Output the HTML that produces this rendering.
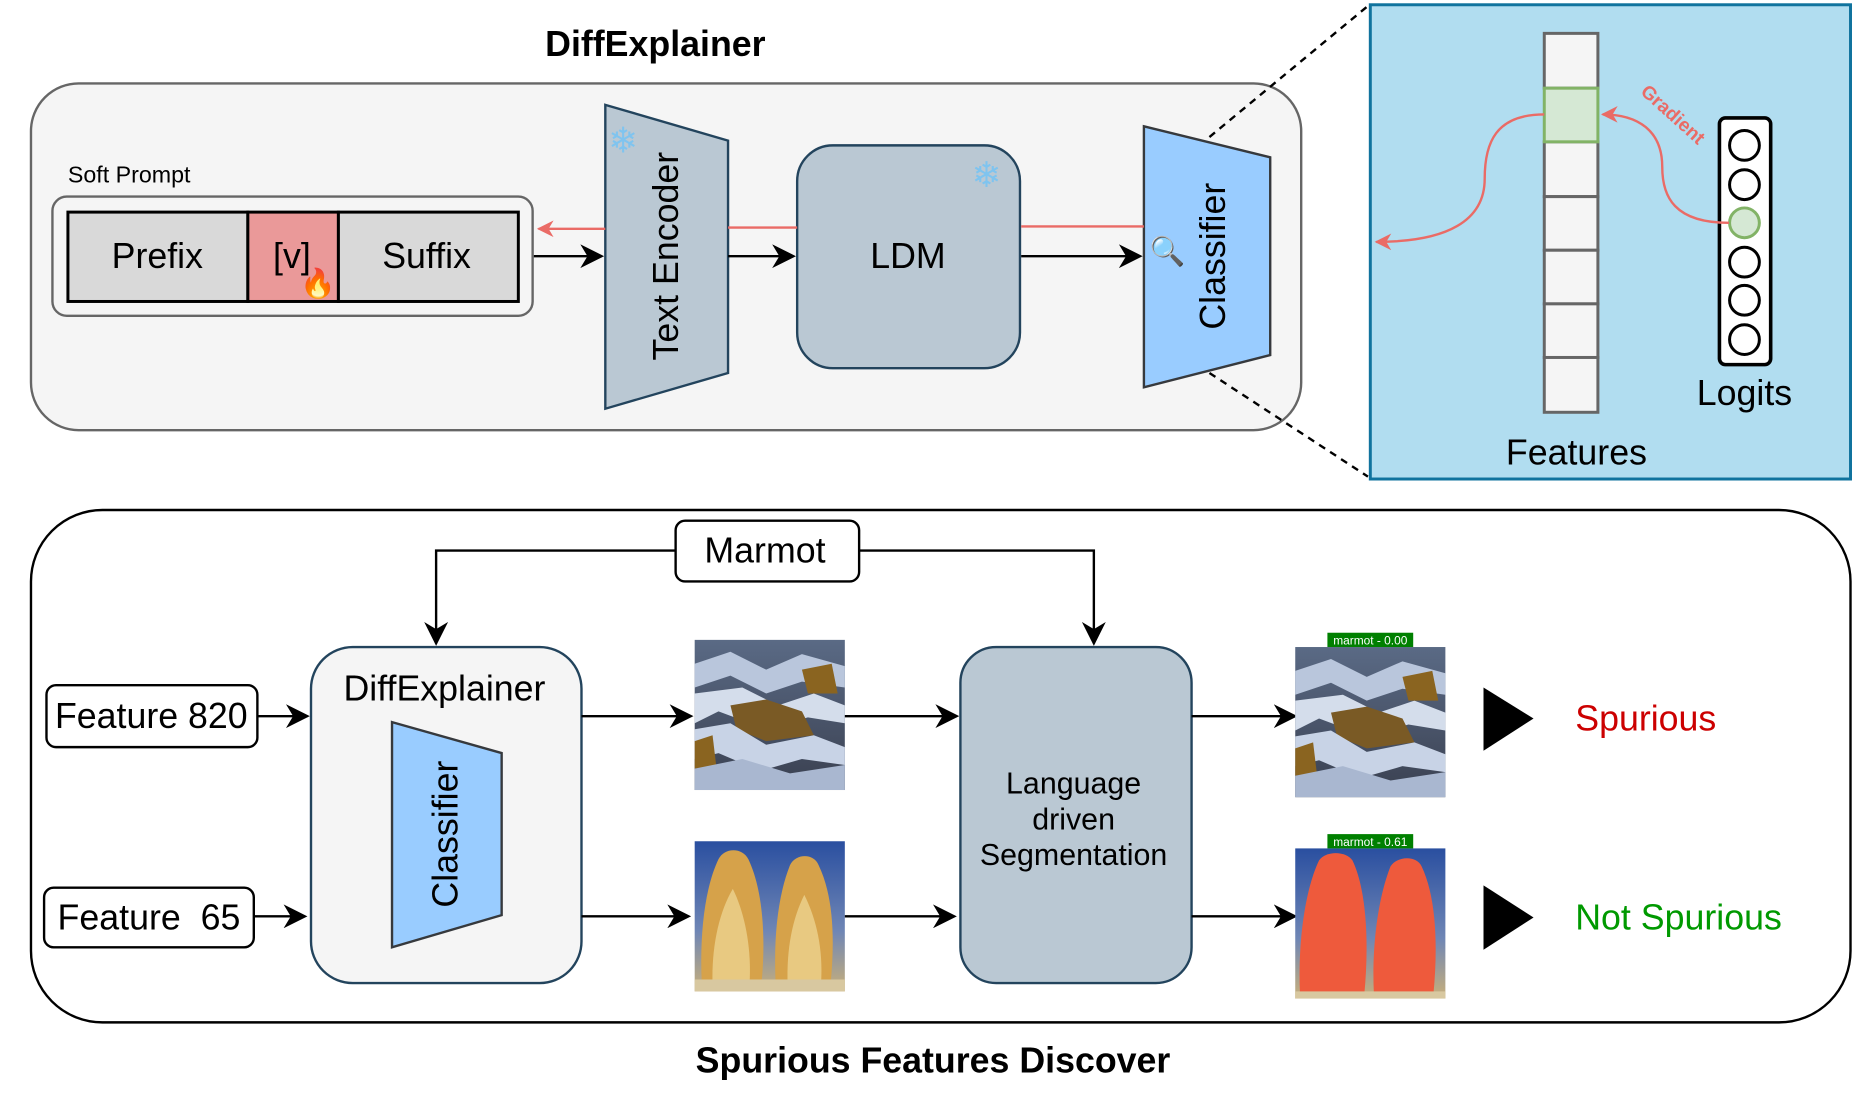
<!DOCTYPE html>
<html><head><meta charset="utf-8"><style>
html,body{margin:0;padding:0;background:#fff;}
svg{display:block;font-family:"Liberation Sans",Arial,sans-serif;}
</style></head><body>
<svg width="1866" height="1104" viewBox="0 0 1566 926.5" preserveAspectRatio="none" xmlns="http://www.w3.org/2000/svg">
<defs>
<marker id="ar" viewBox="0 0 10 10" refX="9" refY="5" markerWidth="14" markerHeight="14" orient="auto" markerUnits="userSpaceOnUse"><path d="M0,0 L10,5 L0,10 L3,5 z" fill="#ea6b66"/></marker>
<marker id="ab2" viewBox="0 0 10 10" refX="9" refY="5" markerWidth="20" markerHeight="20" orient="auto" markerUnits="userSpaceOnUse"><path d="M0,0 L10,5 L0,10 L3,5 z" fill="#000"/></marker>
<linearGradient id="rockbg" x1="0" y1="0" x2="0" y2="1"><stop offset="0" stop-color="#5a6a85"/><stop offset="1" stop-color="#3a4050"/></linearGradient>
<linearGradient id="skyb" x1="0" y1="0" x2="0" y2="1"><stop offset="0" stop-color="#2a4fa0"/><stop offset="0.6" stop-color="#6f86b5"/><stop offset="1" stop-color="#c9b07a"/></linearGradient>
<g id="rocks">
<rect width="126" height="126" fill="url(#rockbg)"/>
<polygon points="0,20 30,10 60,25 90,12 126,22 126,40 90,35 60,45 30,30 0,40" fill="#b9c6dc"/>
<polygon points="0,45 40,40 70,55 100,45 126,55 126,70 95,65 60,75 20,60 0,70" fill="#d4ddeb"/>
<polygon points="30,55 60,50 90,60 100,80 60,85 35,75" fill="#7a5a25"/>
<polygon points="0,75 30,70 60,88 100,80 126,90 126,105 90,100 55,110 20,95 0,100" fill="#c8d3e6"/>
<polygon points="90,25 115,20 120,45 95,45" fill="#8a6420"/>
<polygon points="0,85 15,80 18,105 0,108" fill="#8a6420"/>
<polygon points="0,108 40,100 80,112 126,105 126,126 0,126" fill="#a9b7d0"/>
</g>
<g id="marm">
<rect width="126" height="126" fill="url(#skyb)"/>
<path d="M6,120 C4,80 8,40 20,15 C25,5 40,5 45,15 C57,40 60,80 56,120 z" fill="#d6a24a"/>
<path d="M68,120 C66,80 70,45 80,20 C85,10 100,10 104,20 C116,45 118,80 114,120 z" fill="#d6a24a"/>
<path d="M15,120 C14,90 20,60 32,40 C42,60 48,90 46,120 z" fill="#e8c981"/>
<path d="M78,120 C77,90 82,65 92,45 C102,65 108,90 106,120 z" fill="#e8c981"/>
<rect y="116" width="126" height="10" fill="#d8c8a0"/>
</g>
<g id="marmred">
<rect width="126" height="126" fill="url(#skyb)"/>
<path d="M4,122 C2,80 8,35 20,10 C26,2 42,2 48,10 C60,35 62,80 58,122 z" fill="#ee5a3c"/>
<path d="M66,122 C64,80 70,40 80,15 C86,6 102,6 106,15 C118,40 120,80 116,122 z" fill="#ee5a3c"/>
<rect y="120" width="126" height="6" fill="#d8c8a0"/>
</g>
</defs>

<!-- TOP -->
<text x="550" y="47" text-anchor="middle" font-size="30" font-weight="bold">DiffExplainer</text>
<rect x="26" y="70" width="1066" height="291" rx="40" fill="#f5f5f5" stroke="#666" stroke-width="2"/>
<text x="57" y="153" font-size="19.5">Soft Prompt</text>
<rect x="44" y="165" width="403" height="100" rx="12" fill="#f5f5f5" stroke="#666" stroke-width="2"/>
<rect x="57" y="178" width="151" height="75" fill="#d9d9d9" stroke="#000" stroke-width="2.5"/>
<rect x="208" y="178" width="76" height="75" fill="#ea9999" stroke="#000" stroke-width="2.5"/>
<rect x="284" y="178" width="151" height="75" fill="#d9d9d9" stroke="#000" stroke-width="2.5"/>
<text x="132" y="225" text-anchor="middle" font-size="30">Prefix</text>
<text x="245" y="225" text-anchor="middle" font-size="30">[v]</text>
<text x="267" y="246" text-anchor="middle" font-size="24">🔥</text>
<text x="358" y="225" text-anchor="middle" font-size="30">Suffix</text>

<polygon points="508,88 611,118 611,313 508,343" fill="#bac8d3" stroke="#23445d" stroke-width="2"/>
<text transform="translate(569,215) rotate(-90)" text-anchor="middle" font-size="30">Text Encoder</text>
<text x="523" y="128" text-anchor="middle" font-size="30" fill="#7fc4ef">❄</text>

<rect x="669" y="122" width="187" height="187" rx="30" fill="#bac8d3" stroke="#23445d" stroke-width="2"/>
<text x="762" y="225" text-anchor="middle" font-size="30">LDM</text>
<text x="828" y="157" text-anchor="middle" font-size="30" fill="#7fc4ef">❄</text>

<polygon points="960,106 1066,132 1066,298 960,325" fill="#99ccff" stroke="#36393d" stroke-width="2"/>
<text transform="translate(1028,215) rotate(-90)" text-anchor="middle" font-size="30">Classifier</text>
<text x="980" y="219" text-anchor="middle" font-size="24">🔍</text>

<line x1="611" y1="191" x2="669" y2="191" stroke="#ea6b66" stroke-width="2"/>
<line x1="857" y1="190" x2="960" y2="190" stroke="#ea6b66" stroke-width="2"/>
<line x1="508" y1="192" x2="452" y2="192" stroke="#ea6b66" stroke-width="2" marker-end="url(#ar)"/>
<line x1="448" y1="215" x2="505" y2="215" stroke="#000" stroke-width="2" marker-end="url(#ab2)"/>
<line x1="611" y1="215" x2="666" y2="215" stroke="#000" stroke-width="2" marker-end="url(#ab2)"/>
<line x1="857" y1="215" x2="957" y2="215" stroke="#000" stroke-width="2" marker-end="url(#ab2)"/>

<line x1="1015" y1="115" x2="1148" y2="5" stroke="#000" stroke-width="2" stroke-dasharray="6,5"/>
<line x1="1015" y1="313" x2="1148" y2="400" stroke="#000" stroke-width="2" stroke-dasharray="6,5"/>

<rect x="1150" y="4" width="403" height="398" fill="#b1ddf0" stroke="#10739e" stroke-width="2.5"/>
<g fill="#f5f5f5" stroke="#666" stroke-width="2.5">
<rect x="1296" y="28" width="45" height="46"/>
<rect x="1296" y="119" width="45" height="46"/>
<rect x="1296" y="165" width="45" height="45"/>
<rect x="1296" y="210" width="45" height="45"/>
<rect x="1296" y="255" width="45" height="45"/>
<rect x="1296" y="300" width="45" height="46"/>
</g>
<rect x="1296" y="74" width="45" height="45" fill="#d5e8d4" stroke="#82b366" stroke-width="2.5"/>
<rect x="1443" y="99" width="43" height="207" rx="5" fill="#fff" stroke="#000" stroke-width="3"/>
<g fill="#fff" stroke="#000" stroke-width="2.5">
<circle cx="1464" cy="122" r="12.5"/><circle cx="1464" cy="155" r="12.5"/>
<circle cx="1464" cy="220" r="12.5"/><circle cx="1464" cy="252" r="12.5"/><circle cx="1464" cy="285" r="12.5"/>
</g>
<circle cx="1464" cy="187" r="12.5" fill="#d5e8d4" stroke="#82b366" stroke-width="2.5"/>
<path d="M1451,187 C1405,187 1395,165 1395,140 C1395,110 1375,96 1345,96" fill="none" stroke="#ea6b66" stroke-width="2" marker-end="url(#ar)"/>
<path d="M1296,96 C1255,96 1246,120 1246,150 C1246,185 1215,203 1155,203" fill="none" stroke="#ea6b66" stroke-width="2" marker-end="url(#ar)"/>
<text transform="translate(1376,78) rotate(42)" font-size="16" font-weight="bold" fill="#ea6b66">Gradient</text>
<text x="1464" y="340" text-anchor="middle" font-size="30">Logits</text>
<text x="1323" y="390" text-anchor="middle" font-size="30">Features</text>

<!-- BOTTOM -->
<rect x="26" y="428" width="1527" height="430" rx="60" fill="#fff" stroke="#000" stroke-width="2"/>
<rect x="567" y="437" width="154" height="51" rx="8" fill="#fff" stroke="#000" stroke-width="2"/>
<text x="642" y="472" text-anchor="middle" font-size="30">Marmot</text>
<path d="M567,462 L366,462 L366,540" fill="none" stroke="#000" stroke-width="2" marker-end="url(#ab2)"/>
<path d="M721,462 L918,462 L918,540" fill="none" stroke="#000" stroke-width="2" marker-end="url(#ab2)"/>

<rect x="261" y="543" width="227" height="282" rx="35" fill="#f5f5f5" stroke="#23445d" stroke-width="2"/>
<text x="373" y="588" text-anchor="middle" font-size="30">DiffExplainer</text>
<polygon points="329,606 421,632 421,768 329,795" fill="#99ccff" stroke="#36393d" stroke-width="2"/>
<text transform="translate(384,700) rotate(-90)" text-anchor="middle" font-size="30">Classifier</text>

<rect x="39" y="575" width="177" height="52" rx="8" fill="#fff" stroke="#000" stroke-width="2"/>
<text x="127" y="611" text-anchor="middle" font-size="30">Feature 820</text>
<rect x="37" y="745" width="176" height="50" rx="8" fill="#fff" stroke="#000" stroke-width="2"/>
<text x="125" y="780" text-anchor="middle" font-size="30" xml:space="preserve">Feature  65</text>
<line x1="216" y1="601" x2="258" y2="601" stroke="#000" stroke-width="2" marker-end="url(#ab2)"/>
<line x1="213" y1="769" x2="256" y2="769" stroke="#000" stroke-width="2" marker-end="url(#ab2)"/>
<line x1="488" y1="601" x2="580" y2="601" stroke="#000" stroke-width="2" marker-end="url(#ab2)"/>
<line x1="488" y1="769" x2="578" y2="769" stroke="#000" stroke-width="2" marker-end="url(#ab2)"/>

<use href="#rocks" x="583" y="537"/>
<use href="#marm" x="583" y="706"/>

<line x1="709" y1="601" x2="803" y2="601" stroke="#000" stroke-width="2" marker-end="url(#ab2)"/>
<line x1="709" y1="769" x2="801" y2="769" stroke="#000" stroke-width="2" marker-end="url(#ab2)"/>

<rect x="806" y="543" width="194" height="282" rx="30" fill="#bac8d3" stroke="#23445d" stroke-width="2"/>
<text x="901" y="666" text-anchor="middle" font-size="25.5">Language</text>
<text x="901" y="696" text-anchor="middle" font-size="25.5">driven</text>
<text x="901" y="726" text-anchor="middle" font-size="25.5">Segmentation</text>

<line x1="1000" y1="601" x2="1087" y2="601" stroke="#000" stroke-width="2" marker-end="url(#ab2)"/>
<line x1="1000" y1="769" x2="1087" y2="769" stroke="#000" stroke-width="2" marker-end="url(#ab2)"/>

<use href="#rocks" x="1087" y="543"/>
<rect x="1114" y="531" width="72" height="12" fill="#008000"/>
<text x="1150" y="541" text-anchor="middle" font-size="10" fill="#fff">marmot - 0.00</text>
<use href="#marmred" x="1087" y="712"/>
<rect x="1114" y="700" width="72" height="12" fill="#008000"/>
<text x="1150" y="710" text-anchor="middle" font-size="10" fill="#fff">marmot - 0.61</text>

<polygon points="1245,577 1245,630 1287,603" fill="#000"/>
<polygon points="1245,743 1245,797 1287,770" fill="#000"/>
<text x="1322" y="613" font-size="30" fill="#cc0000">Spurious</text>
<text x="1322" y="780" font-size="30" fill="#009900">Not Spurious</text>

<text x="783" y="900" text-anchor="middle" font-size="30" font-weight="bold">Spurious Features Discover</text>
</svg>
</body></html>
